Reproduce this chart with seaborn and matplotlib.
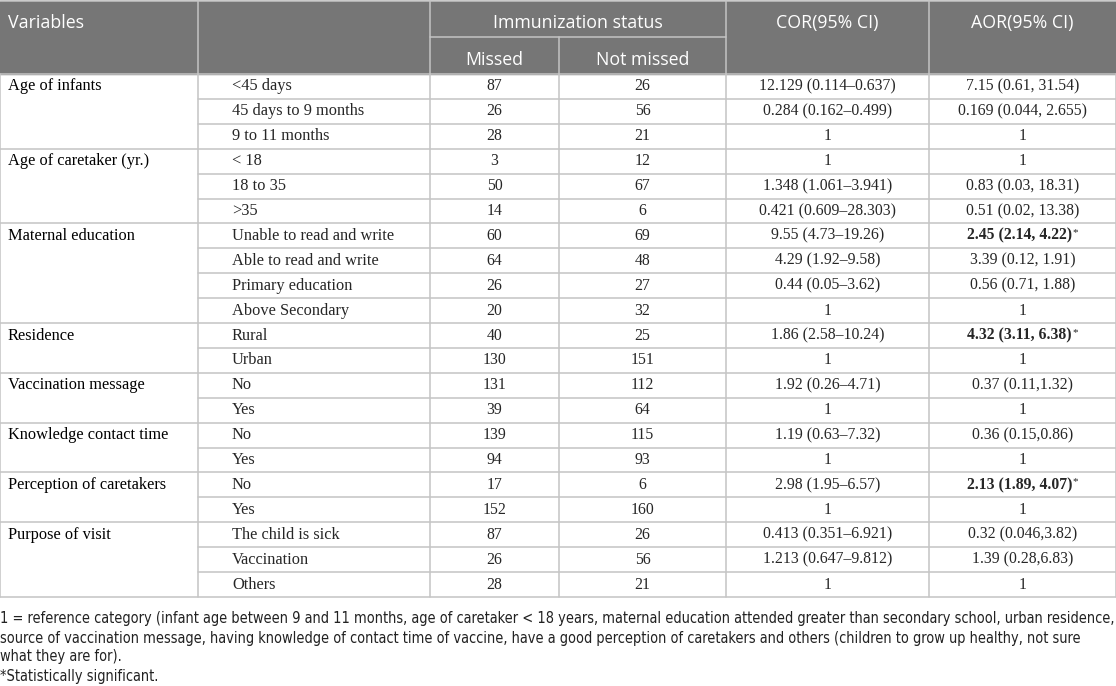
import matplotlib
matplotlib.use("Agg")
import matplotlib.pyplot as plt
import seaborn as sns

# Dados da tabela
variables = ["Age of infants", "Age of caretaker (yr.)", "Maternal education", "Residence",
             "Vaccination message", "Knowledge contact time", "Perception of caretakers",
             "Purpose of visit"]
group_sizes = [3, 3, 4, 2, 2, 2, 2, 3]
categories = ["<45 days", "45 days to 9 months", "9 to 11 months",
              "< 18", "18 to 35", ">35",
              "Unable to read and write", "Able to read and write", "Primary education", "Above Secondary",
              "Rural", "Urban",
              "No", "Yes",
              "No", "Yes",
              "No", "Yes",
              "The child is sick", "Vaccination", "Others"]
missed = [87, 26, 28, 3, 50, 14, 60, 64, 26, 20, 40, 130, 131, 39, 139, 94, 17, 152, 87, 26, 28]
not_missed = [26, 56, 21, 12, 67, 6, 69, 48, 27, 32, 25, 151, 112, 64, 115, 93, 6, 160, 26, 56, 21]
cor = ["12.129 (0.114\u20130.637)", "0.284 (0.162\u20130.499)", "1",
       "1", "1.348 (1.061\u20133.941)", "0.421 (0.609\u201328.303)",
       "9.55 (4.73\u201319.26)", "4.29 (1.92\u20139.58)", "0.44 (0.05\u20133.62)", "1",
       "1.86 (2.58\u201310.24)", "1",
       "1.92 (0.26\u20134.71)", "1",
       "1.19 (0.63\u20137.32)", "1",
       "2.98 (1.95\u20136.57)", "1",
       "0.413 (0.351\u20136.921)", "1.213 (0.647\u20139.812)", "1"]
aor = ["7.15 (0.61, 31.54)", "0.169 (0.044, 2.655)", "1",
       "1", "0.83 (0.03, 18.31)", "0.51 (0.02, 13.38)",
       "2.45 (2.14, 4.22)", "3.39 (0.12, 1.91)", "0.56 (0.71, 1.88)", "1",
       "4.32 (3.11, 6.38)", "1",
       "0.37 (0.11,1.32)", "1",
       "0.36 (0.15,0.86)", "1",
       "2.13 (1.89, 4.07)", "1",
       "0.32 (0.046,3.82)", "1.39 (0.28,6.83)", "1"]
aor_sig = [False] * 6 + [True] + [False] * 3 + [True] + [False] * 5 + [True] + [False] * 4
footnotes = ["1 = reference category (infant age between 9 and 11 months, age of caretaker < 18 years, maternal education attended greater than secondary school, urban residence,",
             "source of vaccination message, having knowledge of contact time of vaccine, have a good perception of caretakers and others (children to grow up healthy, not sure",
             "what they are for).",
             "*Statistically significant."]

# Layout
W, H = 1116, 686
col_x = [0, 198, 430, 559, 726, 929, 1116]
head_top, head_mid, head_bot = 1, 37, 74
table_bot = 597
n_rows = len(categories)
row_h = (table_bot - head_bot) / n_rows
header_color = "#767676"
line_color = "#c4c4c4"
serif = "Liberation Serif"
sans = "Open Sans"

sns.set_theme(style="white")
fig = plt.figure(figsize=(W / 100, H / 100), dpi=100)
ax = fig.add_axes([0, 0, 1, 1])
ax.set_xlim(0, W)
ax.set_ylim(H, 0)
ax.axis("off")

# Cabeçalho
ax.add_patch(plt.Rectangle((0, head_top), W, head_bot - head_top, color=header_color, zorder=0))
lw = 1.1
for x in col_x[1:-1]:
    y0 = head_mid if x == col_x[3] else head_top
    ax.plot([x, x], [y0, head_bot], color=line_color, lw=lw)
ax.plot([col_x[2], col_x[4]], [head_mid, head_mid], color=line_color, lw=lw)
ax.plot([0, W], [head_top, head_top], color=line_color, lw=lw)

hs = 12.8
hy1, hy2 = 23, 60
ax.text(8, hy1, "Variables", color="white", fontsize=hs, family=sans, va="center", ha="left")
ax.text((col_x[2] + col_x[4]) / 2, hy1, "Immunization status", color="white", fontsize=hs, family=sans, va="center", ha="center")
ax.text((col_x[2] + col_x[3]) / 2, hy2, "Missed", color="white", fontsize=hs, family=sans, va="center", ha="center")
ax.text((col_x[3] + col_x[4]) / 2, hy2, "Not missed", color="white", fontsize=hs, family=sans, va="center", ha="center")
ax.text((col_x[4] + col_x[5]) / 2, hy1, "COR(95% CI)", color="white", fontsize=hs, family=sans, va="center", ha="center")
ax.text((col_x[5] + col_x[6]) / 2, hy1, "AOR(95% CI)", color="white", fontsize=hs, family=sans, va="center", ha="center")

# Corpo
ts = 11.8   # rótulos de texto
ns = 11.3   # números
for x in col_x:
    ax.plot([x, x], [head_bot, table_bot], color=line_color, lw=lw)
ax.plot([0, W], [head_bot, head_bot], color=line_color, lw=lw)

start = 0
group_starts = []
for name, size in zip(variables, group_sizes):
    group_starts.append(start)
    yc = head_bot + (start + 0.5) * row_h
    ax.text(8, yc, name, fontsize=ts, family=serif, va="center", ha="left", color="black")
    start += size
group_starts.append(n_rows)

fig.canvas.draw()
renderer = fig.canvas.get_renderer()
inv = ax.transData.inverted()

for i in range(n_rows):
    y_top = head_bot + i * row_h
    y_bot = y_top + row_h
    x0 = 0 if (i + 1) in group_starts else col_x[1]
    ax.plot([x0, W], [y_bot, y_bot], color=line_color, lw=lw)
    yc = y_top + row_h / 2
    ax.text(232, yc, categories[i], fontsize=ts, family=serif, va="center", ha="left")
    ax.text((col_x[2] + col_x[3]) / 2, yc, str(missed[i]), fontsize=ns, family=serif, va="center", ha="center")
    ax.text((col_x[3] + col_x[4]) / 2, yc, str(not_missed[i]), fontsize=ns, family=serif, va="center", ha="center")
    ax.text((col_x[4] + col_x[5]) / 2, yc, cor[i], fontsize=ns, family=serif, va="center", ha="center")
    xc = (col_x[5] + col_x[6]) / 2
    if aor_sig[i]:
        t = ax.text(xc - 3, yc, aor[i], fontsize=ns, family=serif, weight="bold", va="center", ha="center")
        bb = t.get_window_extent(renderer)
        x_end = inv.transform((bb.x1, bb.y1))[0]
        ax.text(x_end + 0.5, yc - 3, "*", fontsize=8, family=serif, va="center", ha="left")
    else:
        ax.text(xc, yc, aor[i], fontsize=ns, family=serif, va="center", ha="center")

# Notas de rodapé
foot_y = [618, 638, 657, 676]
for y, line in zip(foot_y, footnotes):
    ax.text(0, y, line, fontsize=10.45, family="DejaVu Sans", stretch="condensed", va="center", ha="left", color="#222222")

plt.savefig("out.png", dpi=100)
plt.close()
